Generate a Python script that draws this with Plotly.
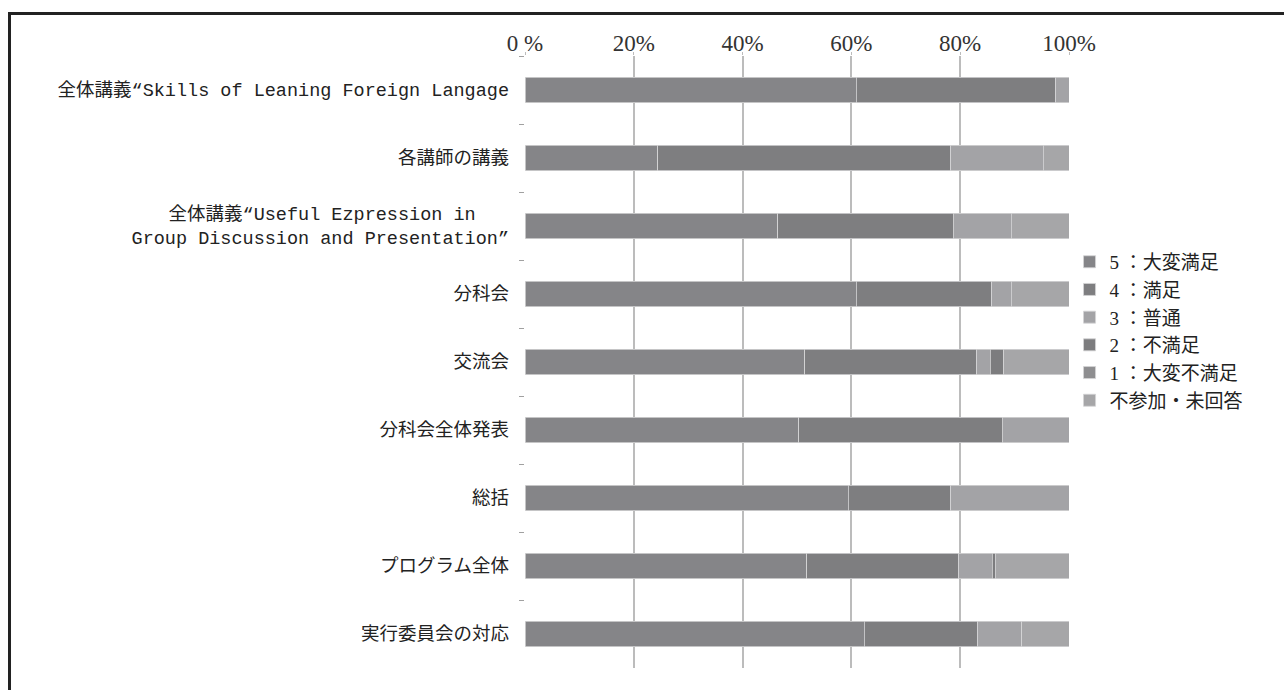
import plotly.graph_objects as go

categories = [
    "全体講義“Skills of Leaning Foreign Langage",
    "各講師の講義",
    "全体講義“Useful Ezpression in\u00a0\u00a0\u00a0<br>Group Discussion and Presentation”",
    "分科会",
    "交流会",
    "分科会全体発表",
    "総括",
    "プログラム全体",
    "実行委員会の対応",
]

series_names = ["5 ：大変満足", "4 ：満足", "3 ：普通", "2 ：不満足", "1 ：大変不満足", "不参加・未回答"]
v5 = [60.9, 24.4, 46.5, 60.9, 51.4, 50.3, 59.4, 51.8, 62.4]
v4 = [36.7, 53.9, 32.2, 24.9, 31.6, 37.4, 18.9, 27.9, 20.8]
v3 = [2.4, 17.0, 10.7, 3.6, 2.5, 12.3, 21.7, 6.2, 8.1]
v2 = [0, 0, 0, 0, 2.5, 0, 0, 0.5, 0]
v1 = [0, 0, 0, 0, 0, 0, 0, 0, 0]
vn = [0, 4.7, 10.6, 10.6, 12.0, 0, 0, 13.6, 8.7]

tick_vals = [0, 20, 40, 60, 80, 100]
tick_text = ["0 %", "20%", "40%", "60%", "80%", "100%"]

colors = ["#858588", "#7e7e80", "#a3a3a6", "#7c7c7e", "#8e8e90", "#a6a6a8"]

fig = go.Figure()
for name, vals, col in zip(series_names, [v5, v4, v3, v2, v1, vn], colors):
    fig.add_trace(go.Bar(
        y=categories,
        x=[v if v > 0 else None for v in vals],
        name=name,
        orientation="h",
        marker=dict(color=col, line=dict(color="#d4d4d6", width=0.8)),
    ))

fig.update_layout(
    width=1284, height=690,
    barmode="stack",
    bargap=0.62,
    paper_bgcolor="white",
    plot_bgcolor="white",
    margin=dict(l=525, r=215, t=56, b=22),
    font=dict(family="Liberation Serif, Noto Sans CJK JP", color="#222222"),
    legend=dict(
        x=1.001, y=0.55, xanchor="left", yanchor="middle",
        traceorder="normal",
        font=dict(size=19, family="Liberation Serif, Noto Sans CJK JP", color="#222222"),
        bgcolor="rgba(0,0,0,0)",
        itemwidth=30,
    ),
    xaxis=dict(
        side="top",
        range=[0, 100],
        tickvals=tick_vals,
        ticktext=tick_text,
        showgrid=True, gridcolor="#bcbcbc", gridwidth=2,
        ticks="outside", ticklen=3, tickcolor="#bcbcbc",
        tickfont=dict(size=23, family="Liberation Serif", color="#333333"),
        ticklabelstandoff=-8,
        zeroline=False, showline=False,
        fixedrange=True,
    ),
    yaxis=dict(
        autorange="reversed",
        tickson="boundaries",
        ticks="outside", ticklen=5, tickcolor="#a0a0a0",
        showline=False, showgrid=False,
        tickfont=dict(size=18.5, family="Liberation Mono, Noto Sans CJK JP", color="#222222"),
        ticklabelstandoff=15,
    ),
    shapes=[dict(
        type="rect", xref="paper", yref="paper",
        x0=-0.9476, x1=1.42, y0=-0.06, y1=1.0694,
        line=dict(color="#222222", width=3),
        fillcolor="rgba(0,0,0,0)", layer="above",
    )],
)

fig.write_html("out.html")
